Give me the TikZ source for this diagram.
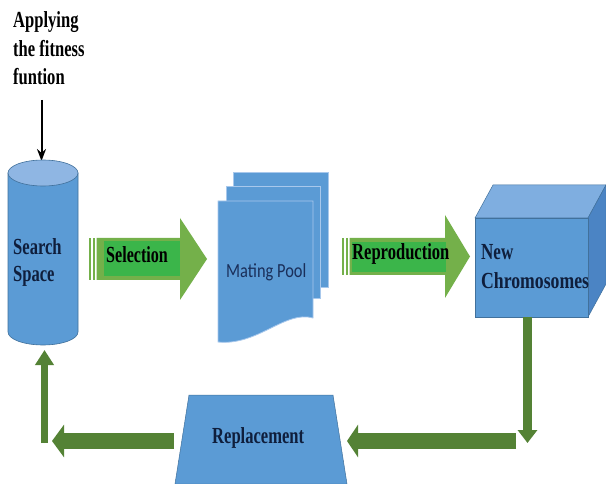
\documentclass[tikz,border=0pt]{standalone}
\usepackage{fontspec}
\usepackage{graphicx}
\setmainfont{Liberation Serif}
\newfontfamily\matefont{Carlito}
\usetikzlibrary{arrows.meta}
\definecolor{blueF}{HTML}{5B9BD5}
\definecolor{blueD}{HTML}{41719C}
\definecolor{blueL}{HTML}{8FB6E3}
\definecolor{blueT}{HTML}{7FAEE0}
\definecolor{blueR}{HTML}{4B84C4}
\definecolor{pageE}{HTML}{A8C8EC}
\definecolor{greenA}{HTML}{74B04A}
\definecolor{greenB}{HTML}{3BB54A}
\definecolor{greenR}{HTML}{548235}
\definecolor{navy}{HTML}{0F1E3C}
\definecolor{matenavy}{HTML}{1A2F5A}
\newcommand{\cz}[2][0.72]{\scalebox{#1}[1]{#2}}
\tikzset{
  lbl/.style={inner sep=0pt, anchor=base west, font=\fontsize{23}{28}\selectfont\bfseries},
  blk/.style={fill=blueF, draw=blueD, line width=0.6pt},
  retarrow/.style={draw=greenR, fill=greenR},
}
\begin{document}
\begin{tikzpicture}[x=1pt,y=-1pt]
\useasboundingbox (0,0) rectangle (606,484);
\fill[white] (0,0) rectangle (606,484);

% Applying the fitness function
\node[lbl, text=black] (ap1) at (13,28) {\cz{Applying}};
\node[lbl, text=black] (ap2) at (13,57) {\cz{the fitness}};
\node[lbl, text=black] (ap3) at (13,85) {\cz{funtion}};
\coordinate (apend) at (41.5,100);
\coordinate (cyltop) at (41.5,161);
\draw[line width=2pt, -{Stealth[length=12pt,width=9pt]}] (apend) -- (cyltop);

% Search space cylinder
\path[blk] (8,173) -- (8,332) .. controls (8,339.18) and (23.67,345) .. (43,345)
  .. controls (62.33,345) and (78,339.18) .. (78,332) -- (78,173) -- cycle;
\path[fill=blueL, draw=blueD, line width=0.6pt] (43,173) ellipse [x radius=35pt, y radius=13pt];
\node[lbl, text=navy] (ss1) at (13,255) {\cz{Search}};
\node[lbl, text=navy] (ss2) at (13,282) {\cz{Space}};

% Selection arrow
\fill[greenA] (89,238) rectangle (91,280);
\fill[greenA] (92.5,238) rectangle (95,280);
\fill[greenA] (96.5,238) -- (180,238) -- (180,218) -- (207,259) -- (180,300) -- (180,280) -- (96.5,280) -- cycle;
\fill[greenB] (104,241) rectangle (180,276);
\node[lbl, text=black] (sel) at (106,263) {\cz[0.7]{Selection}};

% Mating pool (multidocument)
\path[fill=blueF, draw=pageE, line width=0.8pt] (233,172) rectangle (328,287);
\path[fill=blueF, draw=pageE, line width=0.8pt] (226,186) rectangle (320,298);
\path[fill=blueF, draw=pageE, line width=0.8pt] (218,201) -- (313,201) -- (313,318)
  .. controls (285,310) and (258,346) .. (218,342) -- cycle;
\node[inner sep=0pt, anchor=base west, text=matenavy, font=\matefont\fontsize{20}{24}\selectfont] (mp) at (226,278) {\cz[0.82]{Mating Pool}};

% Reproduction arrow
\fill[greenA] (342,238) rectangle (344,275);
\fill[greenA] (345.5,238) rectangle (348,275);
\fill[greenA] (349.5,238) -- (445,238) -- (445,215) -- (470,256.5) -- (445,298) -- (445,275) -- (349.5,275) -- cycle;
\fill[greenB] (352,242) rectangle (446,272);
\node[lbl, text=black] (rep) at (352,260) {\cz[0.72]{Reproduction}};

% New chromosomes cube
\path[fill=blueT, draw=blueD, line width=0.5pt] (475,218) -- (493,185) -- (606,185) -- (588,218) -- cycle;
\path[fill=blueR, draw=blueD, line width=0.5pt] (588,218) -- (606,185) -- (606,284) -- (588,317) -- cycle;
\path[blk, line width=0.5pt] (475,218) rectangle (588,317);
\node[lbl, text=navy] (nc1) at (481,260) {\cz[0.74]{New}};
\node[lbl, text=navy] (nc2) at (481,288) {\cz[0.77]{Chromosomes}};

% Replacement trapezoid
\path[fill=blueF, draw=blueD, line width=0.5pt] (189,395) -- (333,395) -- (347,484) -- (175,484) -- cycle;
\node[lbl, text=navy] (rpl) at (212,443) {\cz[0.72]{Replacement}};

% Return arrows
\coordinate (cubeB) at (527.5,317);
\coordinate (corner) at (527.5,443);
\coordinate (rstart) at (516,441);
\coordinate (trapR) at (347,441);
\coordinate (trapL) at (174,441);
\coordinate (lend) at (52,441);
\coordinate (cylB0) at (44.5,443);
\coordinate (cylB) at (44.5,350);
\draw[retarrow, line width=9pt, -{Triangle[length=13pt,width=19pt]}] (cubeB) -- (corner);
\draw[retarrow, line width=16pt, -{Triangle[length=11pt,width=32pt]}] (rstart) -- (trapR);
\draw[retarrow, line width=16pt, -{Triangle[length=12pt,width=32pt]}] (trapL) -- (lend);
\draw[retarrow, line width=7.5pt, -{Triangle[length=15pt,width=18pt]}] (cylB0) -- (cylB);
\end{tikzpicture}
\end{document}
